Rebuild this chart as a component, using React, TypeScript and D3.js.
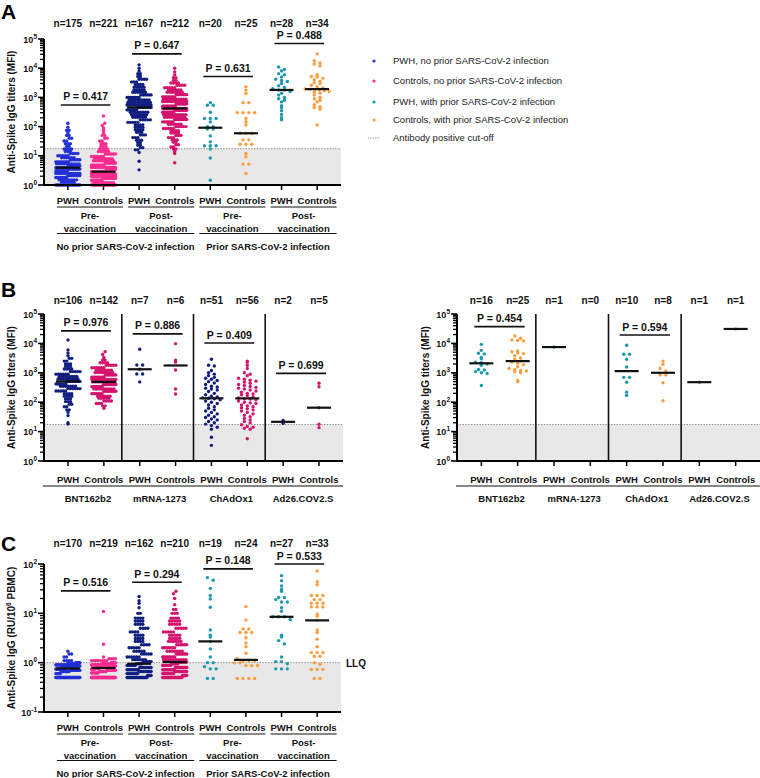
import React from "react";
import * as d3 from "d3";

const FONT = "'Liberation Sans', Arial, Helvetica, sans-serif";
const BLUE = "#2330d6";
const NAVY = "#101e80";
const PINK = "#fb2c8f";
const MAG = "#d4136d";
const TEAL = "#1a98b0";
const ORANGE = "#fd9c3c";

type Bin = [number, number];
const expand = (bins: Bin[]) => bins.flatMap(([v, c]) => Array.from({ length: c }, () => v));

// ---------------- Panel A (MFI, log) ----------------
const catsA = ["PWH", "Controls", "PWH", "Controls", "PWH", "Controls", "PWH", "Controls"];
const nA = [175, 221, 167, 212, 20, 25, 28, 34];
const A_pwhPre: Bin[] = [[1, 16], [1.25, 6], [1.5, 8], [1.8, 10], [2.1, 11], [2.5, 12], [3, 12], [3.5, 12], [3.9, 12], [4.5, 12], [5.3, 10], [6.2, 9], [7.3, 7], [8.6, 6], [10, 5], [12, 4], [14, 3], [17, 4], [21, 2], [26, 3], [32, 2], [40, 2], [50, 2], [62, 1], [75, 2], [95, 1], [130, 1]];
const A_ctlPre: Bin[] = [[1, 22], [1.2, 9], [1.45, 11], [1.7, 13], [2, 15], [2.4, 18], [2.85, 24], [3.4, 16], [4, 14], [4.8, 12], [5.7, 10], [6.8, 9], [8, 8], [9.5, 7], [11.5, 6], [14, 5], [17, 4], [21, 3], [26, 3], [32, 2], [40, 2], [50, 2], [62, 1], [75, 1], [90, 1], [110, 1], [130, 1], [230, 1]];
const A_pwhPost: Bin[] = [[3.3, 1], [6.5, 1], [13, 1], [16, 2], [19, 2], [23, 2], [28, 2], [34, 3], [42, 3], [52, 3], [64, 3], [78, 4], [95, 4], [115, 4], [140, 5], [170, 5], [210, 6], [255, 7], [310, 8], [375, 9], [455, 12], [550, 12], [670, 10], [820, 9], [1000, 8], [1220, 7], [1500, 6], [1830, 5], [2250, 5], [2750, 4], [3400, 3], [4200, 4], [5200, 2], [6500, 2], [8000, 1], [10000, 1], [13000, 1]];
const A_ctlPost: Bin[] = [[5.8, 1], [12, 1], [14, 1], [17, 2], [20, 2], [24, 2], [29, 2], [35, 3], [42, 3], [50, 3], [60, 4], [72, 4], [86, 5], [100, 5], [120, 6], [145, 7], [175, 8], [210, 9], [255, 10], [310, 11], [360, 12], [420, 14], [500, 14], [600, 12], [720, 11], [860, 10], [1030, 9], [1240, 8], [1500, 7], [1800, 6], [2150, 5], [2600, 4], [3100, 4], [3800, 2], [4700, 2], [6000, 1], [7500, 1], [10000, 1]];
const A_pwhPrePrior = [660, 540, 540, 310, 190, 190, 190, 145, 100, 100, 83, 83, 48, 30, 22, 22, 22, 17, 8.4, 1.45];
const A_ctlPrePrior = [2300, 1780, 1380, 660, 660, 300, 300, 300, 300, 193, 147, 113, 59, 59, 59, 35, 35, 25, 25, 25, 12, 9.3, 5.2, 5.2, 2.5];
const A_pwhPostPrior = [11000, 9000, 8000, 6500, 6000, 5000, 4200, 3800, 3500, 3000, 2500, 2200, 2000, 1800, 1800, 1600, 1400, 1200, 1000, 900, 800, 700, 520, 450, 350, 260, 200, 170];
const A_ctlPostPrior = [31000, 18000, 15000, 14000, 12000, 6000, 5200, 5000, 4500, 4000, 3500, 3200, 3000, 2600, 2300, 2100, 1950, 1900, 1850, 1800, 1700, 1600, 1500, 1400, 1200, 1000, 900, 800, 700, 560, 480, 450, 400, 113];
const pA = [
  { a: 0, b: 1, label: "P = 0.417", at: 550 },
  { a: 2, b: 3, label: "P = 0.647", at: 31000 },
  { a: 4, b: 5, label: "P = 0.631", at: 5200 },
  { a: 6, b: 7, label: "P = 0.488", at: 70000 },
];
const vaxLabels = [["Pre-", "vaccination"], ["Post-", "vaccination"], ["Pre-", "vaccination"], ["Post-", "vaccination"]];
const infLabels = ["No prior SARS-CoV-2 infection", "Prior SARS-CoV-2 infection"];

// ---------------- Panel B (by vaccine) ----------------
const vaccines = ["BNT162b2", "mRNA-1273", "ChAdOx1", "Ad26.COV2.S"];
const nBL = [106, 142, 7, 6, 51, 56, 2, 5];
const B_bntPwh: Bin[] = [[18, 1], [20, 1], [35, 1], [45, 1], [55, 2], [70, 2], [85, 2], [105, 3], [130, 3], [160, 4], [195, 4], [240, 5], [290, 6], [350, 7], [420, 8], [510, 10], [620, 9], [750, 8], [900, 6], [1100, 5], [1350, 4], [1650, 3], [2000, 3], [2500, 2], [3100, 2], [3800, 1], [4700, 1], [6000, 1], [13000, 1]];
const B_bntCtl: Bin[] = [[62, 1], [75, 2], [90, 3], [110, 4], [135, 5], [160, 6], [195, 7], [235, 8], [280, 9], [335, 10], [400, 12], [490, 10], [590, 11], [710, 10], [850, 9], [1020, 8], [1230, 7], [1480, 6], [1800, 5], [2200, 4], [2700, 2], [3300, 1], [4200, 1], [5200, 1]];
const B_mrnaPwh = [6300, 1850, 1850, 1320, 910, 910, 490];
const B_mrnaCtl = [9800, 2700, 2300, 1250, 280, 190];
const B_chadPwh = [2900, 1800, 1700, 1200, 1000, 900, 800, 700, 650, 600, 550, 500, 450, 400, 350, 330, 300, 280, 260, 230, 200, 180, 160, 150, 140, 136, 130, 120, 110, 100, 90, 80, 70, 62, 55, 50, 45, 40, 36, 32, 30, 27, 25, 22, 20, 18, 16, 14, 12, 6.4, 3.4];
const B_chadCtl = [2500, 2300, 1800, 1400, 1000, 900, 800, 650, 600, 560, 520, 480, 440, 400, 370, 340, 320, 300, 280, 260, 240, 220, 200, 190, 180, 165, 150, 140, 130, 128, 120, 110, 100, 95, 90, 80, 75, 70, 65, 60, 55, 50, 45, 40, 36, 32, 28, 25, 22, 20, 17, 15, 14, 13, 12, 5.7];
const B_adPwh = [24, 19];
const B_adCtl = [440, 335, 65, 17.7, 13.6];
const pBL = [
  { a: 0, b: 1, label: "P = 0.976", at: 26500 },
  { a: 2, b: 3, label: "P = 0.886", at: 21000 },
  { a: 4, b: 5, label: "P = 0.409", at: 10300 },
  { a: 6, b: 7, label: "P = 0.699", at: 960 },
];
const nBR = [16, 25, 1, 0, 10, 8, 1, 1];
const BR_bntPwh = [9300, 5800, 4600, 4400, 3300, 3000, 2300, 2200, 2000, 1800, 1300, 1250, 1100, 1000, 950, 370];
const BR_bntCtl = [17800, 15000, 13000, 12500, 12000, 5500, 5200, 4800, 4500, 3800, 3200, 2900, 2500, 2300, 2100, 1900, 1600, 1400, 1300, 1200, 1150, 1100, 1000, 550, 500];
const BR_mrnaPwh = [7500];
const BR_mrnaCtl: number[] = [];
const BR_chadPwh = [8700, 4300, 4300, 2900, 1580, 700, 700, 480, 220, 170];
const BR_chadCtl = [2500, 1950, 1420, 1150, 850, 850, 460, 112];
const BR_adPwh = [480];
const BR_adCtl = [31000];
const pBR = [
  { a: 0, b: 1, label: "P = 0.454", at: 37000 },
  { a: 4, b: 5, label: "P = 0.594", at: 19300 },
];

// ---------------- Panel C (RU/10^6 PBMC) ----------------
const nC = [170, 219, 162, 210, 19, 24, 27, 33];
const C_pwhPre: Bin[] = [[0.5, 45], [0.6, 6], [0.66, 10], [0.7, 12], [0.74, 12], [0.78, 14], [0.82, 16], [0.86, 16], [0.9, 14], [0.95, 10], [1.0, 6], [1.1, 4], [1.3, 2], [1.5, 2], [1.7, 1]];
const C_ctlPre: Bin[] = [[0.5, 70], [0.62, 8], [0.66, 8], [0.7, 10], [0.74, 10], [0.78, 14], [0.82, 22], [0.86, 22], [0.9, 18], [0.95, 14], [1.0, 8], [1.1, 8], [1.2, 4], [1.3, 1], [2.36, 1], [10.9, 1]];
const C_pwhPost: Bin[] = [[0.5, 30], [0.55, 6], [0.6, 8], [0.66, 9], [0.72, 9], [0.8, 9], [0.88, 8], [0.95, 6], [1.05, 8], [1.15, 6], [1.3, 6], [1.5, 5], [1.7, 5], [2, 5], [2.3, 4], [2.7, 4], [3.1, 4], [3.6, 4], [4.2, 4], [5, 4], [6, 4], [7, 4], [8, 4], [10, 2], [13, 1], [16, 1], [18, 1], [22, 1]];
const C_ctlPost: Bin[] = [[0.5, 33], [0.55, 8], [0.6, 10], [0.66, 11], [0.72, 12], [0.8, 12], [0.88, 10], [0.95, 8], [1.03, 10], [1.15, 10], [1.3, 9], [1.5, 8], [1.7, 7], [2, 7], [2.3, 6], [2.7, 6], [3.1, 5], [3.6, 5], [4.2, 5], [5, 5], [6, 5], [7, 5], [8, 4], [10, 3], [12, 2], [15, 1], [20, 1], [25, 1], [28, 1]];
const C_pwhPrePrior = [53, 47, 32, 23, 19.6, 13.3, 4.6, 3.6, 3.3, 2.7, 1.9, 1.3, 1.0, 1.0, 0.83, 0.75, 0.75, 0.48, 0.48];
const C_ctlPrePrior = [13.7, 7.3, 4.8, 4.8, 4.1, 4.1, 4.1, 3.2, 2.5, 2.1, 1.55, 1.2, 1.08, 1.08, 1.08, 0.99, 0.99, 0.87, 0.87, 0.87, 0.48, 0.48, 0.48, 0.48];
const C_pwhPostPrior = [58, 46, 36, 31, 28, 21, 21, 19, 17, 17, 13, 11, 8.5, 8.5, 8.5, 7.5, 3.6, 3.3, 2.8, 2.4, 1.3, 1.05, 1.05, 0.95, 0.75, 0.75, 0.75];
const C_ctlPostPrior = [72, 44, 38, 23, 23, 23, 19, 19, 16, 16, 16, 13.5, 13.5, 13.5, 9.6, 8.7, 7.2, 4.6, 4.1, 3.0, 2.1, 1.6, 1.6, 1.6, 1.35, 1.35, 1.0, 0.93, 0.73, 0.73, 0.73, 0.48, 0.48];
const pC = [
  { a: 0, b: 1, label: "P = 0.516", at: 28.5 },
  { a: 2, b: 3, label: "P = 0.294", at: 42.7 },
  { a: 4, b: 5, label: "P = 0.148", at: 80 },
  { a: 6, b: 7, label: "P = 0.533", at: 103 },
];

const legendItems = [
  { color: BLUE, label: "PWH, no prior SARS-CoV-2 infection" },
  { color: PINK, label: "Controls, no prior SARS-CoV-2 infection" },
  { color: TEAL, label: "PWH, with prior SARS-CoV-2 infection" },
  { color: ORANGE, label: "Controls, with prior SARS-CoV-2 infection" },
];

// ---------------------------------------------------------
type PVal = { a: number; b: number; label: string; at: number };
interface PanelCfg {
  x0: number; x1: number; yTop: number; yBot: number;
  dMin: number; dMax: number; cut: number;
  groups: number[][]; colors: string[]; ns: number[]; pvals: PVal[];
  nY: number; seps?: boolean; rowH: number; titleX: number;
  title: React.ReactNode; extendAxis?: number;
}

function swarm(vals: number[], cx: number, ys: (v: number) => number, rowH: number, sp: number, maxW: number) {
  const pts = vals.map((v) => ({ v, y: ys(v) }));
  const rows = d3.group(pts, (p) => Math.round(p.y / rowH));
  const out: { x: number; y: number }[] = [];
  for (const arr of rows.values()) {
    const k = arr.length;
    const s = k > 1 ? Math.min(sp, maxW / (k - 1)) : 0;
    arr.forEach((p, i) => out.push({ x: cx + (i - (k - 1) / 2) * s, y: p.y }));
  }
  return out;
}

function makeX(c: PanelCfg) {
  return d3.scalePoint<number>().domain(d3.range(c.groups.length)).range([c.x0, c.x1]).padding(0.67);
}

function Panel({ c }: { c: PanelCfg }) {
  const y = d3.scaleLog().domain([c.dMin, c.dMax]).range([c.yBot, c.yTop]).clamp(true);
  const x = makeX(c);
  const axisEnd = c.extendAxis ?? c.x1;
  const kMin = Math.round(Math.log10(c.dMin));
  const kMax = Math.round(Math.log10(c.dMax));
  const decades = d3.range(kMin, kMax + 1);
  const minors: number[] = [];
  decades.slice(0, -1).forEach((k) => d3.range(2, 10).forEach((m) => minors.push(m * Math.pow(10, k))));
  const sepXs = c.seps ? [1, 3, 5].map((i) => ((x(i) as number) + (x(i + 1) as number)) / 2) : [];
  const yCut = y(c.cut);
  return (
    <g>
      <rect x={c.x0} y={yCut} width={axisEnd - c.x0} height={c.yBot - yCut} fill="#e8e8e8" />
      <line x1={c.x0} x2={axisEnd} y1={yCut} y2={yCut} stroke="#8c8c8c" strokeWidth={1} strokeDasharray="1.4,1.4" />
      {sepXs.map((sx, i) => (
        <line key={i} x1={sx} x2={sx} y1={c.yTop} y2={c.yBot} stroke="#111" strokeWidth={1.6} />
      ))}
      {c.groups.map((g, gi) => {
        const cx = x(gi) as number;
        const sp = g.length > 90 ? 2.5 : 5.8;
        const pts = swarm(g, cx, y, c.rowH, sp, 24);
        return (
          <g key={gi} fill={c.colors[gi]}>
            {pts.map((p, i) => (
              <circle key={i} cx={p.x} cy={p.y} r={1.7} />
            ))}
          </g>
        );
      })}
      {c.groups.map((g, gi) => {
        if (!g.length) return null;
        const cx = x(gi) as number;
        const m = d3.median(g) as number;
        return <line key={gi} x1={cx - 12} x2={cx + 12} y1={y(m)} y2={y(m)} stroke="#111" strokeWidth={2.2} />;
      })}
      {c.pvals.map((p, i) => {
        const xa = x(p.a) as number;
        const xb = x(p.b) as number;
        const yy = y(p.at);
        return (
          <g key={i}>
            <line x1={xa - 7} x2={xb + 7} y1={yy} y2={yy} stroke="#111" strokeWidth={1.7} />
            <text x={(xa + xb) / 2} y={yy - 4.5} textAnchor="middle" fontSize={10.5} fontWeight="bold" fill="#111">{p.label}</text>
          </g>
        );
      })}
      {c.ns.map((n, i) => (
        <text key={i} x={x(i) as number} y={c.nY} textAnchor="middle" fontSize={10} fontWeight="bold" fill="#111">{`n=${n}`}</text>
      ))}
      {/* axes */}
      <line x1={c.x0} x2={c.x0} y1={c.yTop} y2={c.yBot + 1} stroke="#000" strokeWidth={2} />
      <line x1={c.x0 - 1} x2={axisEnd} y1={c.yBot} y2={c.yBot} stroke="#000" strokeWidth={2} />
      {c.groups.map((_, i) => (
        <line key={i} x1={x(i) as number} x2={x(i) as number} y1={c.yBot} y2={c.yBot + 5} stroke="#000" strokeWidth={1.5} />
      ))}
      {minors.map((v, i) => (
        <line key={i} x1={c.x0 - 4} x2={c.x0} y1={y(v)} y2={y(v)} stroke="#000" strokeWidth={1.3} />
      ))}
      {decades.map((k) => (
        <g key={k}>
          <line x1={c.x0 - 6} x2={c.x0} y1={y(Math.pow(10, k))} y2={y(Math.pow(10, k))} stroke="#000" strokeWidth={1.6} />
          <text x={c.x0 - 7} y={y(Math.pow(10, k)) + 3.5} textAnchor="end" fontSize={9} fontWeight="bold" fill="#111">
            10<tspan dy={-4} fontSize={6.5}>{k}</tspan>
          </text>
        </g>
      ))}
      <text transform={`translate(${c.titleX},${(c.yTop + c.yBot) / 2}) rotate(-90)`} textAnchor="middle" dy="0.35em" fontSize={10} fontWeight="bold" fill="#111">
        {c.title}
      </text>
    </g>
  );
}

function GroupLabelsAC({ c }: { c: PanelCfg }) {
  const x = makeX(c);
  const b = c.yBot;
  const pl = (i: number) => (x(2 * i) as number) - 11;
  const pr = (i: number) => (x(2 * i + 1) as number) + 19.5;
  return (
    <g fontWeight="bold" fill="#111" fontSize={9.5}>
      {catsA.map((t, i) => (
        <text key={i} x={x(i) as number} y={b + 18.8} textAnchor="middle">{t}</text>
      ))}
      {vaxLabels.map((lab, i) => (
        <g key={i}>
          <line x1={pl(i)} x2={pr(i)} y1={b + 22} y2={b + 22} stroke="#111" strokeWidth={1.2} />
          <text x={(pl(i) + pr(i)) / 2} y={b + 33.5} textAnchor="middle">{lab[0]}</text>
          <text x={(pl(i) + pr(i)) / 2} y={b + 46.5} textAnchor="middle">{lab[1]}</text>
        </g>
      ))}
      {infLabels.map((lab, j) => (
        <g key={j}>
          <line x1={pl(2 * j)} x2={pr(2 * j + 1)} y1={b + 48.5} y2={b + 48.5} stroke="#111" strokeWidth={1.2} />
          <text x={(pl(2 * j) + pr(2 * j + 1)) / 2} y={b + 65} textAnchor="middle">{lab}</text>
        </g>
      ))}
    </g>
  );
}

function GroupLabelsB({ c }: { c: PanelCfg }) {
  const x = makeX(c);
  const b = c.yBot;
  const end = c.extendAxis ?? c.x1;
  return (
    <g fontWeight="bold" fill="#111" fontSize={9.5}>
      {catsA.map((t, i) => (
        <text key={i} x={x(i) as number} y={b + 21.5} textAnchor="middle">{t}</text>
      ))}
      <line x1={c.x0 - 1} x2={end} y1={b + 25} y2={b + 25} stroke="#111" strokeWidth={1.2} />
      {vaccines.map((v, i) => (
        <text key={i} x={((x(2 * i) as number) + (x(2 * i + 1) as number)) / 2 + 2} y={b + 41} textAnchor="middle">{v}</text>
      ))}
    </g>
  );
}

const mfiTitle = "Anti-Spike IgG titers (MFI)";

const cfgA: PanelCfg = {
  x0: 44, x1: 341, yTop: 39, yBot: 185, dMin: 1, dMax: 1e5, cut: 17.5,
  groups: [expand(A_pwhPre), expand(A_ctlPre), expand(A_pwhPost), expand(A_ctlPost), A_pwhPrePrior, A_ctlPrePrior, A_pwhPostPrior, A_ctlPostPrior],
  colors: [BLUE, PINK, NAVY, MAG, TEAL, ORANGE, TEAL, ORANGE],
  ns: nA, pvals: pA, nY: 27, rowH: 3.1, titleX: 11, title: mfiTitle,
};
const cfgBL: PanelCfg = {
  x0: 44, x1: 343, yTop: 314, yBot: 461, dMin: 1, dMax: 1e5, cut: 17.5,
  groups: [expand(B_bntPwh), expand(B_bntCtl), B_mrnaPwh, B_mrnaCtl, B_chadPwh, B_chadCtl, B_adPwh, B_adCtl],
  colors: [NAVY, MAG, NAVY, MAG, NAVY, MAG, NAVY, MAG],
  ns: nBL, pvals: pBL, nY: 304, seps: true, rowH: 3.3, titleX: 11, title: mfiTitle,
};
const cfgBR: PanelCfg = {
  x0: 457, x1: 760, yTop: 314, yBot: 461, dMin: 1, dMax: 1e5, cut: 17.5,
  groups: [BR_bntPwh, BR_bntCtl, BR_mrnaPwh, BR_mrnaCtl, BR_chadPwh, BR_chadCtl, BR_adPwh, BR_adCtl],
  colors: [TEAL, ORANGE, TEAL, ORANGE, TEAL, ORANGE, TEAL, ORANGE],
  ns: nBR, pvals: pBR, nY: 304, seps: true, rowH: 3.3, titleX: 425, title: mfiTitle,
};
const cfgC: PanelCfg = {
  x0: 44, x1: 341, yTop: 564, yBot: 712, dMin: 0.1, dMax: 100, cut: 1,
  groups: [expand(C_pwhPre), expand(C_ctlPre), expand(C_pwhPost), expand(C_ctlPost), C_pwhPrePrior, C_ctlPrePrior, C_pwhPostPrior, C_ctlPostPrior],
  colors: [BLUE, PINK, NAVY, MAG, TEAL, ORANGE, TEAL, ORANGE],
  ns: nC, pvals: pC, nY: 547, rowH: 4.2, titleX: 11,
  title: (
    <>
      Anti-Spike IgG (RU/10<tspan dy={-4} fontSize={6.5}>6</tspan>
      <tspan dy={4}> PBMC)</tspan>
    </>
  ),
};

export default function App() {
  const legendYs = [61, 81, 102, 120];
  return (
    <svg width={760} height={778} style={{ position: "absolute", left: 0, top: 0, background: "#fff" }} fontFamily={FONT}>
      <rect width={760} height={778} fill="#fff" />
      <Panel c={cfgA} />
      <GroupLabelsAC c={cfgA} />
      <Panel c={cfgBL} />
      <GroupLabelsB c={cfgBL} />
      <Panel c={cfgBR} />
      <GroupLabelsB c={cfgBR} />
      <Panel c={cfgC} />
      <GroupLabelsAC c={cfgC} />
      <text x={346} y={663} dy="0.35em" fontSize={10} fontWeight="bold" fill="#111">LLQ</text>
      {/* panel letters */}
      <text x={1} y={19} fontSize={21} fontWeight="bold" fill="#000">A</text>
      <text x={1} y={297} fontSize={21} fontWeight="bold" fill="#000">B</text>
      <text x={1} y={551} fontSize={21} fontWeight="bold" fill="#000">C</text>
      {/* legend */}
      {legendItems.map((it, i) => (
        <g key={i}>
          <circle cx={374} cy={legendYs[i]} r={1.6} fill={it.color} />
          <text x={393} y={legendYs[i]} dy="0.35em" fontSize={9.5} fill="#222">{it.label}</text>
        </g>
      ))}
      <line x1={368} x2={380} y1={138} y2={138} stroke="#8c8c8c" strokeWidth={1} strokeDasharray="1.2,1.2" />
      <text x={393} y={138} dy="0.35em" fontSize={9.5} fill="#222">Antibody positive cut-off</text>
    </svg>
  );
}
